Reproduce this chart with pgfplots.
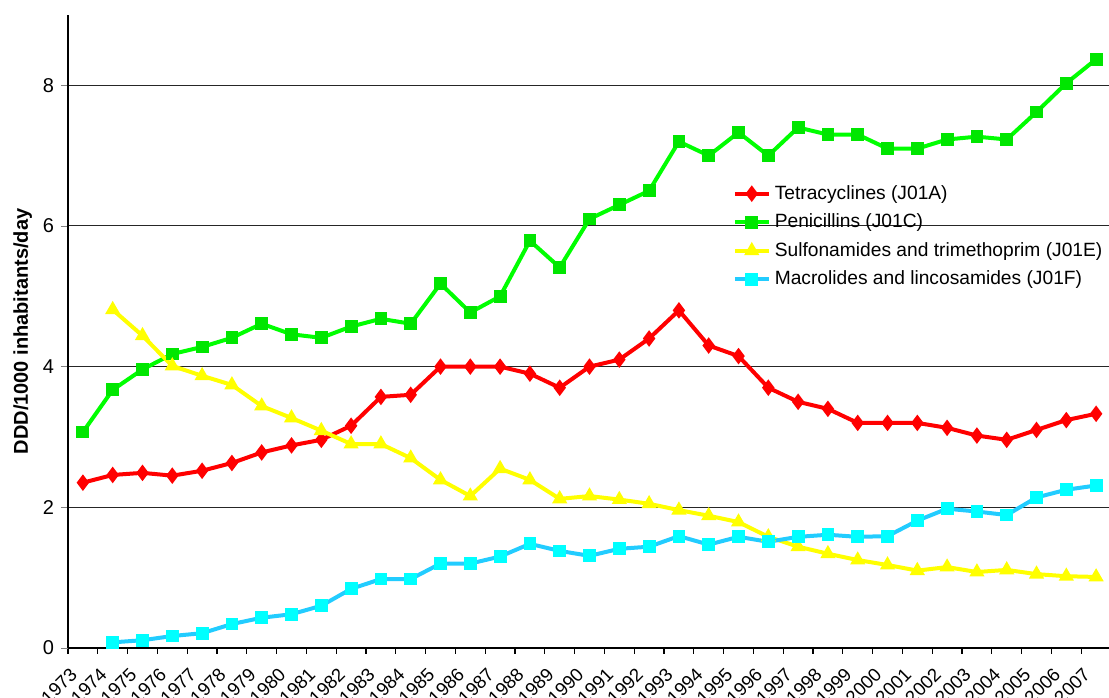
\documentclass[border=0pt]{standalone}
\usepackage{fontspec}
\setmainfont{Liberation Sans}
\usepackage{pgfplots}
\pgfplotsset{compat=1.18}
\usetikzlibrary{calc}
\definecolor{cred}{HTML}{FF0000}
\definecolor{cgreen}{HTML}{00FF00}
\definecolor{cgreenm}{HTML}{00E600}
\definecolor{cyel}{HTML}{FFFF00}
\definecolor{ccyanl}{HTML}{22CCFF}
\definecolor{ccyanm}{HTML}{00FFFF}
\begin{document}
\begin{tikzpicture}
\begin{axis}[
  name=ax,
  scale only axis,
  width=521.5pt, height=316.5pt,
  xmin=1972.5, xmax=2007.5,
  ymin=0, ymax=9,
  axis lines=left,
  axis line style={-, black, line width=0.6pt},
  xtick={1973,...,2007},
  minor xtick={1972.5,1973.5,...,2007.5},
  major x tick style={draw=none},
  minor x tick style={black, line width=0.6pt},
  minor tick length=2.8pt,
  ytick={0,2,4,6,8},
  major tick length=3.5pt,
  tick align=outside,
  ymajorgrids,
  grid style={black!85, line width=0.5pt},
  xticklabel style={rotate=45, anchor=north east, inner sep=0pt, font=\fontsize{9.3}{11}\selectfont, xshift=-8.9pt, yshift=1.0pt},
  yticklabel style={font=\fontsize{10}{12}\selectfont},
  /pgf/number format/assume math mode=true,
  /pgf/number format/1000 sep={},
  ylabel={\textbf{DDD/1000 inhabitants/day}},
  ylabel style={font=\fontsize{10}{12}\selectfont, yshift=-1.5pt},
  legend style={draw=none, fill=none, at={(0.637,0.738)}, anchor=north west,
    font=\fontsize{9.6}{11}\selectfont, row sep=1.8pt, inner sep=0pt},
  legend cell align=left,
  legend image code/.code={\draw[#1] (0pt,0pt) -- (17pt,0pt); \path[#1] plot coordinates {(8.5pt,0pt)};},
  clip=false,
]
\addplot[cred, line width=2pt, mark=diamond*, mark size=2.5pt, mark options={solid, fill=cred, draw=cred}] coordinates {
(1973,2.35)(1974,2.46)(1975,2.49)(1976,2.45)(1977,2.52)(1978,2.63)(1979,2.78)(1980,2.88)(1981,2.96)(1982,3.16)
(1983,3.57)(1984,3.60)(1985,4.0)(1986,4.0)(1987,4.0)(1988,3.9)(1989,3.7)(1990,4.0)(1991,4.1)(1992,4.4)
(1993,4.8)(1994,4.3)(1995,4.15)(1996,3.7)(1997,3.5)(1998,3.4)(1999,3.2)(2000,3.2)(2001,3.2)(2002,3.13)
(2003,3.02)(2004,2.96)(2005,3.1)(2006,3.24)(2007,3.33)};
\addlegendentry{Tetracyclines (J01A)}
\addplot[cgreen, line width=2pt, mark=square*, mark size=2.2pt, mark options={solid, fill=cgreenm, draw=cgreenm}] coordinates {
(1973,3.07)(1974,3.67)(1975,3.96)(1976,4.18)(1977,4.28)(1978,4.41)(1979,4.61)(1980,4.46)(1981,4.41)(1982,4.57)
(1983,4.68)(1984,4.61)(1985,5.18)(1986,4.77)(1987,5.0)(1988,5.79)(1989,5.41)(1990,6.1)(1991,6.3)(1992,6.5)
(1993,7.2)(1994,7.0)(1995,7.33)(1996,7.0)(1997,7.4)(1998,7.3)(1999,7.3)(2000,7.1)(2001,7.1)(2002,7.23)
(2003,7.27)(2004,7.23)(2005,7.62)(2006,8.03)(2007,8.37)};
\addlegendentry{Penicillins (J01C)}
\addplot[cyel, line width=2pt, mark=triangle*, mark size=2.4pt, mark options={solid, fill=cyel, draw=cyel}] coordinates {
(1974,4.81)(1975,4.44)(1976,4.01)(1977,3.87)(1978,3.74)(1979,3.44)(1980,3.27)(1981,3.09)(1982,2.9)
(1983,2.9)(1984,2.7)(1985,2.39)(1986,2.16)(1987,2.55)(1988,2.39)(1989,2.12)(1990,2.16)(1991,2.11)(1992,2.05)
(1993,1.96)(1994,1.88)(1995,1.79)(1996,1.58)(1997,1.44)(1998,1.34)(1999,1.25)(2000,1.18)(2001,1.10)(2002,1.15)
(2003,1.08)(2004,1.11)(2005,1.05)(2006,1.02)(2007,1.01)};
\addlegendentry{Sulfonamides and trimethoprim (J01E)}
\addplot[ccyanl, line width=2pt, mark=square*, mark size=2.2pt, mark options={solid, fill=ccyanm, draw=ccyanm}] coordinates {
(1974,0.08)(1975,0.11)(1976,0.17)(1977,0.21)(1978,0.34)(1979,0.43)(1980,0.48)(1981,0.6)(1982,0.84)
(1983,0.98)(1984,0.98)(1985,1.2)(1986,1.2)(1987,1.3)(1988,1.48)(1989,1.38)(1990,1.31)(1991,1.41)(1992,1.44)
(1993,1.59)(1994,1.47)(1995,1.58)(1996,1.51)(1997,1.58)(1998,1.61)(1999,1.58)(2000,1.59)(2001,1.81)(2002,1.98)
(2003,1.94)(2004,1.89)(2005,2.14)(2006,2.25)(2007,2.31)};
\addlegendentry{Macrolides and lincosamides (J01F)}
\end{axis}
\pgfresetboundingbox
\path[use as bounding box] ($(ax.south west)+(-34pt,-25pt)$) rectangle ($(ax.north east)+(-1pt,7.5pt)$);
\end{tikzpicture}
\end{document}
